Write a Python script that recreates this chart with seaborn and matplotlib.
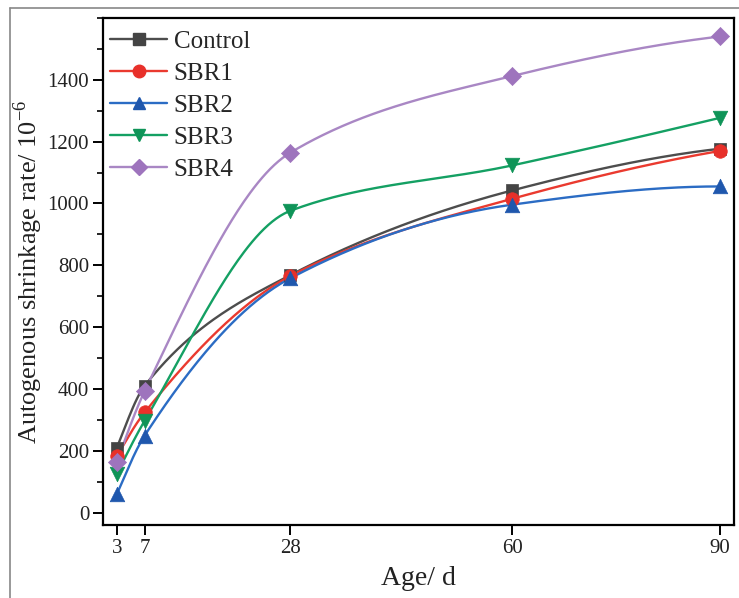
import numpy as np
import pandas as pd
import matplotlib
matplotlib.use("Agg")
import matplotlib.pyplot as plt
from matplotlib.lines import Line2D
from matplotlib.ticker import MultipleLocator
import seaborn as sns

# ---- data ----
ages = [3, 7, 28, 60, 90]
control = [210, 410, 768, 1042, 1177]
sbr1 = [183, 324, 765, 1015, 1170]
sbr2 = [60, 249, 758, 996, 1055]
sbr3 = [126, 297, 976, 1123, 1277]
sbr4 = [165, 393, 1164, 1412, 1540]
series_names = ["Control", "SBR1", "SBR2", "SBR3", "SBR4"]
x_ticks = [3, 7, 28, 60, 90]
y_ticks = [0, 200, 400, 600, 800, 1000, 1200, 1400]

line_colors = ["#4d4d4d", "#ea3a2f", "#2b6cc4", "#14a063", "#a987c4"]
marker_colors = ["#444444", "#e8302a", "#1f57ad", "#0f9458", "#9e74bd"]
markers = ["s", "o", "^", "v", "D"]
msizes = [80, 95, 110, 110, 85]

sns.set_theme(style="ticks")
plt.rcParams["font.family"] = ["Liberation Serif", "DejaVu Serif"]
plt.rcParams["mathtext.fontset"] = "custom"
plt.rcParams["mathtext.rm"] = "Liberation Serif"


def smooth_curve(x, y, n=300):
    """Monotone (Fritsch-Carlson / PCHIP) cubic through the data points, for drawing only."""
    x = np.asarray(x, float)
    y = np.asarray(y, float)
    h = np.diff(x)
    d = np.diff(y) / h
    k = len(x)
    m = np.zeros(k)
    for i in range(1, k - 1):
        if d[i - 1] * d[i] <= 0:
            m[i] = 0
        else:
            w1 = 2 * h[i] + h[i - 1]
            w2 = h[i] + 2 * h[i - 1]
            m[i] = (w1 + w2) / (w1 / d[i - 1] + w2 / d[i])
    m[0] = ((2 * h[0] + h[1]) * d[0] - h[0] * d[1]) / (h[0] + h[1])
    if np.sign(m[0]) != np.sign(d[0]):
        m[0] = 0
    elif np.sign(d[0]) != np.sign(d[1]) and abs(m[0]) > abs(3 * d[0]):
        m[0] = 3 * d[0]
    m[-1] = ((2 * h[-1] + h[-2]) * d[-1] - h[-1] * d[-2]) / (h[-1] + h[-2])
    if np.sign(m[-1]) != np.sign(d[-1]):
        m[-1] = 0
    elif np.sign(d[-1]) != np.sign(d[-2]) and abs(m[-1]) > abs(3 * d[-1]):
        m[-1] = 3 * d[-1]
    xs = np.linspace(x[0], x[-1], n)
    idx = np.clip(np.searchsorted(x, xs) - 1, 0, k - 2)
    hh = h[idx]
    t = (xs - x[idx]) / hh
    h00 = 2 * t**3 - 3 * t**2 + 1
    h10 = t**3 - 2 * t**2 + t
    h01 = -2 * t**3 + 3 * t**2
    h11 = t**3 - t**2
    ys = h00 * y[idx] + h10 * hh * m[idx] + h01 * y[idx + 1] + h11 * hh * m[idx + 1]
    return xs, ys


all_vals = [control, sbr1, sbr2, sbr3, sbr4]
pts = pd.DataFrame({
    "Age": np.tile(ages, len(series_names)),
    "Value": np.concatenate(all_vals),
    "Series": np.repeat(series_names, len(ages)),
})
curves = []
for name, vals in zip(series_names, all_vals):
    xs, ys = smooth_curve(ages, vals)
    curves.append(pd.DataFrame({"Age": xs, "Value": ys, "Series": name}))
curves = pd.concat(curves, ignore_index=True)

fig = plt.figure(figsize=(7.39, 5.98), dpi=100)
ax = fig.add_axes([0.1394, 0.1221, 0.8538, 0.8479])

sns.lineplot(data=curves, x="Age", y="Value", hue="Series", hue_order=series_names,
             palette=line_colors, linewidth=1.7, legend=False, ax=ax, sort=False,
             estimator=None)
for name, col, mk, ms in zip(series_names, marker_colors, markers, msizes):
    sub = pts[pts["Series"] == name]
    sns.scatterplot(data=sub, x="Age", y="Value", color=col, marker=mk, s=ms,
                    edgecolor=col, linewidth=0.5, legend=False, ax=ax, zorder=3)

ax.set_xlim(1, 92)
ax.set_ylim(-40, 1600)
ax.set_xticks(x_ticks)
ax.set_xticklabels([str(t) for t in x_ticks])
ax.set_yticks(y_ticks)
ax.yaxis.set_minor_locator(MultipleLocator(100))
ax.tick_params(axis="both", which="major", direction="out", length=7, width=1.4,
               labelsize=15, color="black", labelcolor="#222222", pad=3)
ax.tick_params(axis="y", which="minor", direction="out", length=4, width=1.2, color="black")
for s in ax.spines.values():
    s.set_linewidth(1.6)
    s.set_color("black")

ax.set_xlabel("Age/ d", fontsize=20, color="#222222", labelpad=6)
ax.set_ylabel(r"Autogenous shrinkage rate/ 10$^{\mathrm{-6}}$", fontsize=19,
              color="#222222", labelpad=2)

handles = [Line2D([0], [0], color=lc, marker=mk, markerfacecolor=mc, markeredgecolor=mc,
                  markersize=9 if mk != "D" else 8, linewidth=1.7)
           for lc, mc, mk in zip(line_colors, marker_colors, markers)]
ax.legend(handles, series_names, loc="upper left", bbox_to_anchor=(-0.005, 0.995),
          frameon=False, fontsize=18, handlelength=2.3, handletextpad=0.25,
          labelspacing=0.38, borderaxespad=0.2, borderpad=0.2)

# outer thin frame (left and top)
fig.add_artist(Line2D([0.013, 0.013], [0, 0.986], transform=fig.transFigure,
                      color="#888888", linewidth=1.2))
fig.add_artist(Line2D([0.013, 1.0], [0.986, 0.986], transform=fig.transFigure,
                      color="#888888", linewidth=1.2))

fig.savefig("out.png", dpi=100, facecolor="white")
